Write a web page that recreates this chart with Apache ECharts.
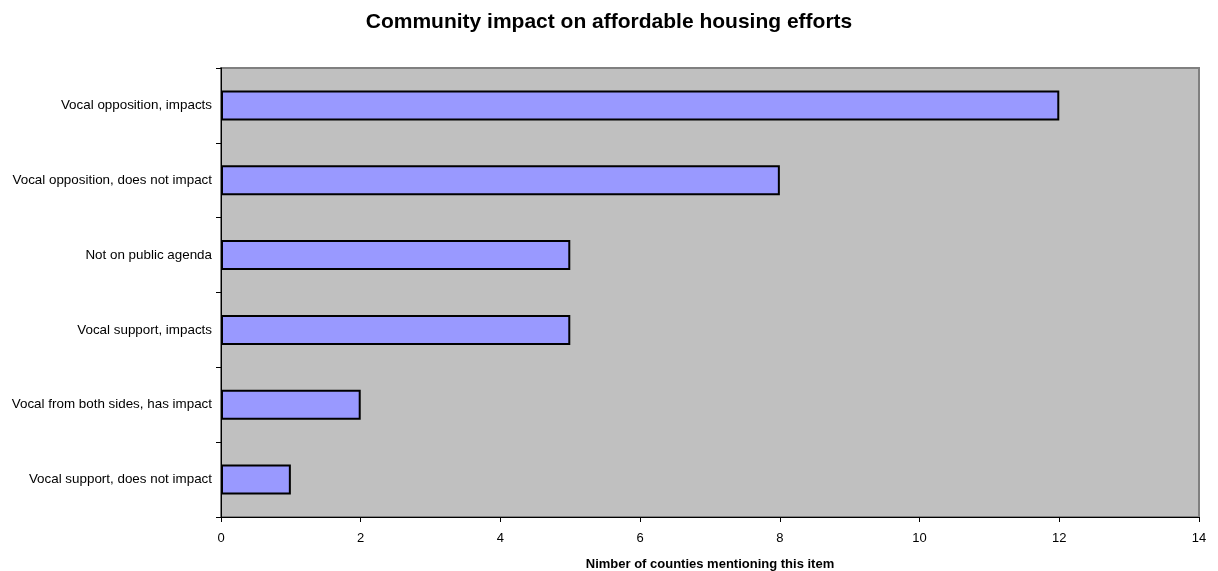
<!DOCTYPE html>
<html>
<head>
<meta charset="utf-8">
<script src="https://cdn.jsdelivr.net/npm/echarts@6/dist/echarts.min.js"></script>
<style>
  html, body { margin: 0; padding: 0; background: #fff; }
  #chart { width: 1218px; height: 571px; }
</style>
</head>
<body>
<div id="chart"></div>
<script>
// Responses, listed top to bottom
const categories = [
  'Vocal opposition, impacts',
  'Vocal opposition, does not impact',
  'Not on public agenda',
  'Vocal support, impacts',
  'Vocal from both sides, has impact',
  'Vocal support, does not impact'
];
// Number of counties per response
const counts = [12, 8, 5, 5, 2, 1];
const xTicks = { min: 0, max: 14, interval: 2 };

const FONT = 'Liberation Sans, Arial, sans-serif';

const chart = echarts.init(document.getElementById('chart'), null, { renderer: 'canvas' });
chart.setOption({
  animation: false,
  backgroundColor: '#ffffff',
  title: {
    text: 'Community impact on affordable housing efforts',
    left: 'center',
    top: 7,
    textStyle: { fontFamily: FONT, fontSize: 21, fontWeight: 'bold', color: '#000' }
  },
  grid: {
    left: 221, right: 19, top: 68, bottom: 54,
    outerBoundsMode: 'none',
    containLabel: false,
    show: true,
    backgroundColor: '#C0C0C0',
    borderColor: '#808080',
    borderWidth: 2
  },
  xAxis: {
    type: 'value',
    min: xTicks.min, max: xTicks.max, interval: xTicks.interval,
    name: 'Nimber of counties mentioning this item',
    nameLocation: 'middle',
    nameGap: 41,
    nameTextStyle: { fontFamily: FONT, fontSize: 13, fontWeight: 'bold', color: '#000' },
    axisLine: { show: true, lineStyle: { color: '#000', width: 1 } },
    axisTick: { show: true, length: 5, lineStyle: { color: '#000' } },
    axisLabel: { margin: 15, fontFamily: FONT, fontSize: 13, color: '#000' },
    splitLine: { show: false }
  },
  yAxis: {
    type: 'category',
    data: categories,
    inverse: true,
    axisLine: { show: true, lineStyle: { color: '#000', width: 1 } },
    axisTick: { show: true, length: 5, lineStyle: { color: '#000' } },
    axisLabel: { margin: 9, fontFamily: FONT, fontSize: 13.4, color: '#000' },
    splitLine: { show: false }
  },
  series: [{
    type: 'bar',
    data: counts,
    barWidth: '40%',
    itemStyle: { color: '#9999FF', borderColor: '#000', borderWidth: 2 }
  }]
});
</script>
</body>
</html>
